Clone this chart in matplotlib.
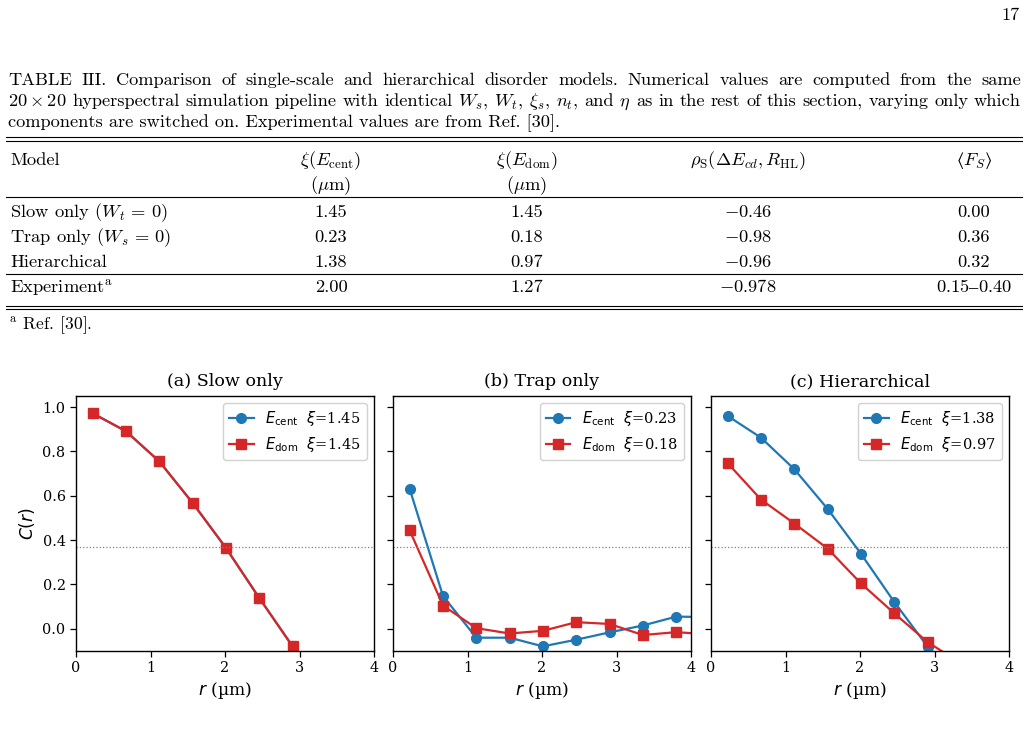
import matplotlib
matplotlib.use("Agg")
import matplotlib.pyplot as plt
from matplotlib.lines import Line2D
import numpy as np

# ---------------- data ----------------
r_um = [0.224, 0.671, 1.118, 1.565, 2.012, 2.460, 2.907, 3.354, 3.801, 4.248]

slow_cent = [0.972, 0.891, 0.755, 0.568, 0.365, 0.139, -0.079]
slow_dom = [0.972, 0.891, 0.755, 0.568, 0.365, 0.139, -0.079]
trap_cent = [0.631, 0.148, -0.040, -0.040, -0.079, -0.049, -0.016, 0.015, 0.055, 0.053]
trap_dom = [0.444, 0.105, 0.003, -0.021, -0.009, 0.030, 0.022, -0.028, -0.015, -0.025]
hier_cent = [0.960, 0.862, 0.720, 0.541, 0.339, 0.121, -0.080]
hier_dom = [0.747, 0.583, 0.475, 0.362, 0.205, 0.070, -0.060, -0.155]

panel_titles = ["(a) Slow only", "(b) Trap only", "(c) Hierarchical"]
xi_cent = ["1.45", "0.23", "1.38"]
xi_dom = ["1.45", "0.18", "0.97"]

table_models = [r"Slow only $(W_t\,=\,0)$", r"Trap only $(W_s\,=\,0)$", "Hierarchical",
                r"Experiment$^{\rm a}$"]
table_xi_cent = ["1.45", "0.23", "1.38", "2.00"]
table_xi_dom = ["1.45", "0.18", "0.97", "1.27"]
table_rho = [r"$-0.46$", r"$-0.98$", r"$-0.96$", r"$-0.978$"]
table_fs = ["0.00", "0.36", "0.32", r"$0.15\mathrm{–}0.40$"]

# ---------------- figure ----------------
plt.rcParams["font.family"] = "serif"
W, H = 1029, 743
fig = plt.figure(figsize=(W / 100, H / 100), dpi=100)


def fx(x):
    return x / W


def fy(y):
    return 1 - y / H


TXT = dict(family="cmr10", math_fontfamily="cm")
CAP = 13.2
TAB = 13.3

fig.text(fx(1020), fy(20), "17", ha="right", va="baseline", size=CAP, **TXT)

renderer = fig.canvas.get_renderer()


def justified(y, tokens, x0, x1):
    texts = [fig.text(0, fy(y), t, va="baseline", ha="left", size=CAP, **TXT) for t in tokens]
    widths = [t.get_window_extent(renderer).width for t in texts]
    gap = ((x1 - x0) - sum(widths)) / (len(tokens) - 1)
    x = x0
    for t, w in zip(texts, widths):
        t.set_x(fx(x))
        x += w + gap


line1 = ("TABLE III. Comparison of single-scale and hierarchical disorder models. "
         "Numerical values are computed from the same").split(" ")
line2 = [r"$20\times20$", "hyperspectral", "simulation", "pipeline", "with", "identical",
         r"$W_s$,", r"$W_t$,", r"$\xi_s$,", r"$n_t$,", "and", r"$\eta$", "as", "in", "the",
         "rest", "of", "this", "section,", "varying", "only", "which"]
justified(85, line1, 8, 1021)
justified(106, line2, 8, 1021)
fig.text(fx(8), fy(127), "components are switched on. Experimental values are from Ref. [30].",
         va="baseline", size=CAP, **TXT)


def rule(y, lw=0.8):
    fig.add_artist(Line2D([fx(6), fx(1022)], [fy(y), fy(y)], transform=fig.transFigure,
                          color="black", lw=lw))


rule(136.7)
rule(140.7)
rule(196.7)
rule(274.3)
rule(306)
rule(309.5)

col_x = [331, 527, 748, 974]
fig.text(fx(10), fy(165), "Model", va="baseline", size=TAB, **TXT)
headers = [r"$\xi(E_{\rm cent})$", r"$\xi(E_{\rm dom})$",
           r"$\rho_{\rm S}(\Delta E_{cd}, R_{\rm HL})$", r"$\mathrm{⟨}F_S\mathrm{⟩}$"]
for cx, hd in zip(col_x, headers):
    fig.text(fx(cx), fy(165), hd, ha="center", va="baseline", size=TAB, **TXT)
for cx in col_x[:2]:
    fig.text(fx(cx), fy(190), r"$(\mu\mathrm{m})$", ha="center", va="baseline", size=TAB, **TXT)

row_y = [216.7, 241.7, 266.7, 292.5]
for i, yb in enumerate(row_y):
    fig.text(fx(10), fy(yb), table_models[i], va="baseline", size=TAB, **TXT)
    for cx, col in zip(col_x, [table_xi_cent, table_xi_dom, table_rho, table_fs]):
        fig.text(fx(cx), fy(yb), col[i], ha="center", va="baseline", size=TAB, **TXT)

fig.text(fx(9), fy(329), r"${}^{\rm a}$ Ref. [30].", va="baseline", size=TAB * 0.95, **TXT)

# ---------------- chart ----------------
blue = "#1f77b4"
red = "#d62728"
lefts = [76, 393, 711]
top, bottom = 396, 651
width = 298
series = [(slow_cent, slow_dom), (trap_cent, trap_dom), (hier_cent, hier_dom)]

for k, (lx, (yc, yd)) in enumerate(zip(lefts, series)):
    ax = fig.add_axes([fx(lx), fy(bottom), width / W, (bottom - top) / H])
    ax.plot(r_um[:len(yc)], yc, "-o", color=blue, lw=1.6, ms=7,
            label=r"$E_{\rm cent}$  $\xi$=" + xi_cent[k])
    ax.plot(r_um[:len(yd)], yd, "-s", color=red, lw=1.6, ms=7,
            label=r"$E_{\rm dom}$  $\xi$=" + xi_dom[k])
    ax.axhline(np.exp(-1), color="gray", ls=":", lw=0.9)
    ax.set_xlim(0, 4)
    ax.set_ylim(-0.1, 1.05)
    ax.set_xticks([0, 1, 2, 3, 4])
    ax.set_yticks([0.0, 0.2, 0.4, 0.6, 0.8, 1.0])
    ax.tick_params(labelsize=10.4, direction="out", length=4, width=0.9)
    for s in ax.spines.values():
        s.set_linewidth(1.0)
    ax.set_title(panel_titles[k], fontsize=12.6, pad=7)
    ax.set_xlabel(r"$r$ (µm)", fontsize=12.3, labelpad=3)
    if k == 0:
        ax.set_ylabel(r"$C(r)$", fontsize=12.3)
    else:
        ax.set_yticklabels([])
    ax.legend(loc="upper right", fontsize=10.5, handlelength=1.7, borderaxespad=0.5,
              framealpha=0.9, edgecolor="#cccccc")

fig.savefig("out.png", dpi=100)
